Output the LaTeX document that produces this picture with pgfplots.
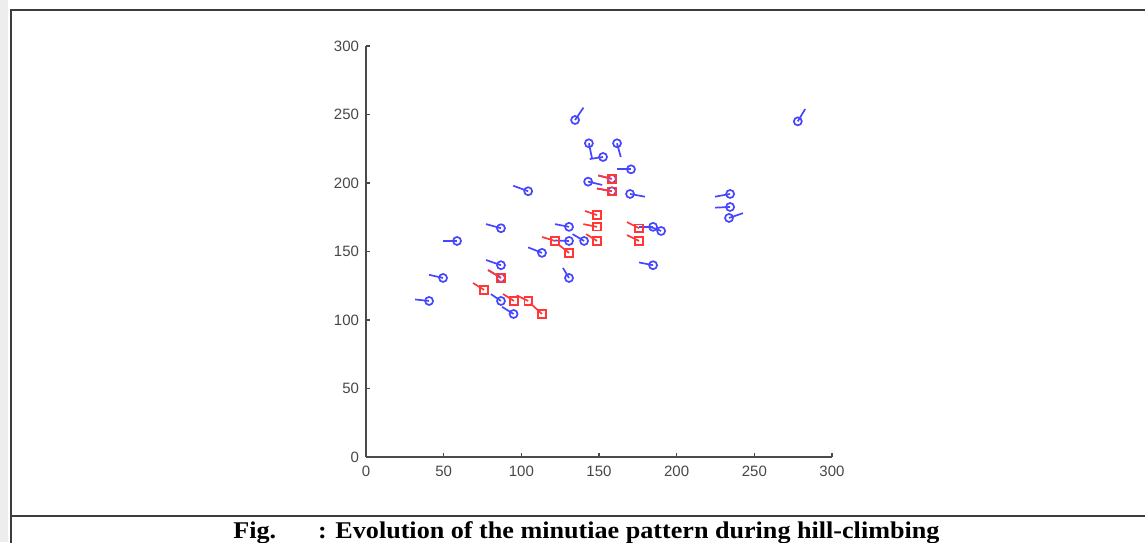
\documentclass[border=0pt]{standalone}
\usepackage{fontspec}
\setmainfont{Liberation Sans}
\newfontfamily\capfont{Liberation Serif}
\usepackage{graphicx}
\usepackage{pgfplots}
\pgfplotsset{compat=1.18}
\usepackage{pgfplotstable}
\definecolor{mblue}{RGB}{70,70,255}
\definecolor{mred}{RGB}{255,55,55}
\definecolor{axgray}{RGB}{75,75,75}
\definecolor{framegray}{RGB}{60,60,60}

% blue minutiae: position (x,y) and tail (u,v)
\pgfplotstableread{
x y u v
134.6 246 5.4 9
278 245 4.7 9
143.5 229 2 -11
152.6 219 -8.6 -1.5
161.6 229 2.4 -10
170.6 210 -9 0
143 201 9 -2.4
170 192 9.6 -2
104.4 194 -9.6 4
234.4 192 -9.7 -2
234.4 182.5 -9.7 -0.5
233.7 174.5 9 3.5
184.8 168 -9 0
190 165 -7 3
130.7 168 -9 2
130.7 157.7 -9 0.3
140.4 157.7 -7.4 5
113.3 149 -8.9 4
130.7 130.7 -3.9 7.3
184.8 140 -9 2
95 104.4 -7.4 5.2
86.9 167 -9.6 3
58.6 157.7 -9 0
86.9 140 -9.6 3.8
86.9 130.7 -8.3 5.8
49.6 130.7 -9 2.3
40.6 113.9 -9 1.1
86.9 113.9 -6.5 5
158.3 194 -9.6 2
158.3 203 -8.8 2.5
}\bluedata

% red minutiae
\pgfplotstableread{
x y u v
158.3 203 -8.8 2.5
158.3 194 -9.6 2
148.7 176.6 -7.7 3
148.7 168 -8.8 2
148.7 157.7 -7 5
121.7 157.7 -8.4 2.9
130.7 149 -6.4 5.7
175.8 167 -7.8 4.5
175.8 157.7 -7.8 4.3
86.9 130.7 -8.3 5.8
76 122 -7.1 5
95.3 113.9 -7.1 5.1
104.4 113.9 -7.4 4.1
113.3 104.4 -7.3 7.6
}\reddata

\newsavebox\capbox
\sbox\capbox{\capfont\bfseries\fontsize{12}{14}\selectfont Fig.\hspace{1.6em}: Evolution of the minutiae pattern during hill-climbing}

\begin{document}
\begin{tikzpicture}
\useasboundingbox (0,0) rectangle (572.5pt,-271pt);
\clip (0,0) rectangle (572.5pt,-271pt);
\fill[gray!14] (0,0) rectangle (4pt,-271pt);
\draw[framegray, line width=1pt] (5.3pt,-272pt) -- (5.3pt,-4.8pt) -- (574pt,-4.8pt);
\draw[framegray, line width=1pt] (5.3pt,-258pt) -- (574pt,-258pt);
\node[anchor=base west, inner sep=0pt] at (116.5pt,-269pt) {\resizebox{353pt}{\height}{\usebox\capbox}};

\begin{axis}[
  at={(183pt,-228.5pt)}, anchor=south west,
  scale only axis, width=233pt, height=205.5pt,
  xmin=0, xmax=300, ymin=0, ymax=300,
  axis x line*=bottom, axis y line*=left,
  axis line style={-, axgray, line width=0.7pt},
  tick align=inside,
  major tick length=2.2pt,
  tick style={axgray, line width=0.6pt},
  xtick={0,50,...,300}, ytick={0,50,...,300},
  ticklabel style={font=\fontsize{7.5}{9}\selectfont, text=black!72},
  /pgf/number format/assume math mode=true,
  xticklabel style={yshift=-1pt},
  clip=false,
]
\addplot[mblue, line width=0.85pt, quiver={u=\thisrow{u}, v=\thisrow{v}}] table[x=x,y=y] {\bluedata};
\addplot[only marks, mark=o, mark size=2pt, mblue, mark options={line width=0.85pt}] table[x=x,y=y] {\bluedata};
\addplot[mred, line width=0.85pt, quiver={u=\thisrow{u}, v=\thisrow{v}}] table[x=x,y=y] {\reddata};
\addplot[only marks, mark=square, mark size=1.9pt, mred, mark options={line width=0.85pt}] table[x=x,y=y] {\reddata};
\end{axis}
\end{tikzpicture}
\end{document}
